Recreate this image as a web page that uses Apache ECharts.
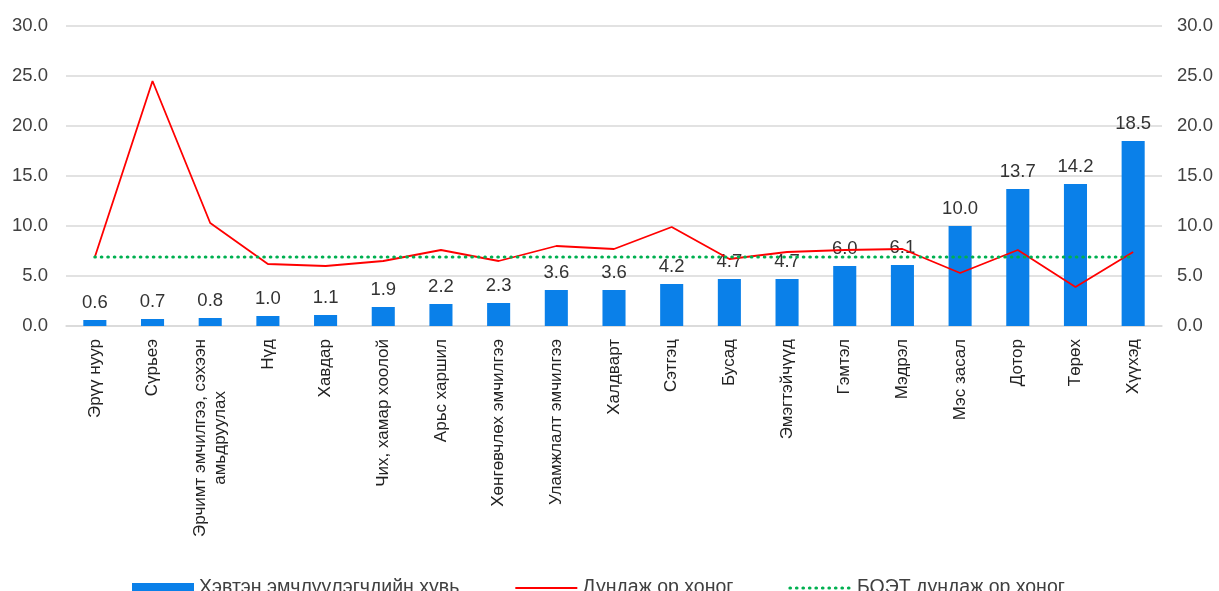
<!DOCTYPE html>
<html>
<head>
<meta charset="utf-8">
<script src="https://cdn.jsdelivr.net/npm/echarts@6/dist/echarts.min.js"></script>
<style>
html,body{margin:0;padding:0;background:#fff;}
#main{width:1219px;height:591px;}
</style>
</head>
<body>
<div id="main"></div>
<script>
var categories = ['Эрүү нуур','Сүрьеэ','Эрчимт эмчилгээ, сэхээн\nамьдруулах','Нүд','Хавдар','Чих, хамар хоолой','Арьс харшил','Хөнгөвчлөх эмчилгээ','Уламжлалт эмчилгээ','Халдварт','Сэтгэц','Бусад','Эмэгтэйчүүд','Гэмтэл','Мэдрэл','Мэс засал','Дотор','Төрөх','Хүүхэд'];
var patientShare = [0.6,0.7,0.8,1.0,1.1,1.9,2.2,2.3,3.6,3.6,4.2,4.7,4.7,6.0,6.1,10.0,13.7,14.2,18.5];
var avgBedDays = [6.9,24.5,10.3,6.2,6.0,6.5,7.6,6.5,8.0,7.7,9.9,6.7,7.4,7.6,7.7,5.3,7.6,3.9,7.4];
var nationalAvg = [6.9,6.9,6.9,6.9,6.9,6.9,6.9,6.9,6.9,6.9,6.9,6.9,6.9,6.9,6.9,6.9,6.9,6.9,6.9];
var seriesNames = ['Хэвтэн эмчлүүлэгчдийн хувь','Дундаж ор хоног','БОЭТ дундаж ор хоног'];
var yTicks = [0,5,10,15,20,25,30];

var FONT = '"Liberation Sans", Arial, sans-serif';
var chart = echarts.init(document.getElementById('main'));
var yAxisBase = {
  type:'value', min:yTicks[0], max:yTicks[yTicks.length-1], interval:5,
  axisLine:{show:false}, axisTick:{show:false},
  axisLabel:{formatter:function(v){return v.toFixed(1);}, color:'#404040', fontSize:18.5, fontFamily:FONT}
};
chart.setOption({
  animation:false,
  textStyle:{fontFamily:FONT},
  grid:{left:66,right:57,top:26,bottom:265,containLabel:false},
  legend:{
    left:127, top:573, itemWidth:62, itemHeight:10, itemGap:55,
    textStyle:{fontSize:19.5,color:'#404040',fontFamily:FONT},
    data:[
      {name:seriesNames[0],icon:'rect'},
      {name:seriesNames[1],itemStyle:{opacity:0},lineStyle:{width:2}},
      {name:seriesNames[2],itemStyle:{opacity:0},lineStyle:{width:3.2}}
    ]
  },
  xAxis:{
    type:'category', data:categories,
    axisLine:{show:true,lineStyle:{color:'#d9d9d9',width:1.5}},
    axisTick:{show:false},
    axisLabel:{
      interval:0, rotate:90, margin:13, color:'#222', fontSize:17, fontFamily:FONT,
      formatter:function(v){
        return v.split('\n').map(function(s){return '{c|'+s+'}';}).join('\n');
      },
      rich:{c:{align:'center',fontSize:17,color:'#222',fontFamily:FONT,lineHeight:20}}
    }
  },
  yAxis:[
    Object.assign({}, yAxisBase, {position:'left', axisLabel:Object.assign({}, yAxisBase.axisLabel,{margin:18}),
      splitLine:{show:true,lineStyle:{color:'#d9d9d9',width:1.5}}}),
    Object.assign({}, yAxisBase, {position:'right', axisLabel:Object.assign({}, yAxisBase.axisLabel,{margin:15}),
      splitLine:{show:false}})
  ],
  series:[
    {
      name:seriesNames[0], type:'bar', data:patientShare, barWidth:'40%', yAxisIndex:0,
      itemStyle:{color:'#0A80E9'},
      label:{show:true,position:'top',distance:8,color:'#333',fontSize:18.5,fontFamily:FONT,
        formatter:function(p){return p.value.toFixed(1);}}
    },
    {
      name:seriesNames[1], type:'line', data:avgBedDays, yAxisIndex:1,
      symbol:'none', showSymbol:false,
      lineStyle:{color:'#FF0000',width:1.8}, itemStyle:{color:'#FF0000'}
    },
    {
      name:seriesNames[2], type:'line', data:nationalAvg, yAxisIndex:1,
      symbol:'none', showSymbol:false,
      lineStyle:{color:'#00B050',width:3.2,type:[0.5,6],cap:'round'}, itemStyle:{color:'#00B050'}
    }
  ]
});
</script>
</body>
</html>
